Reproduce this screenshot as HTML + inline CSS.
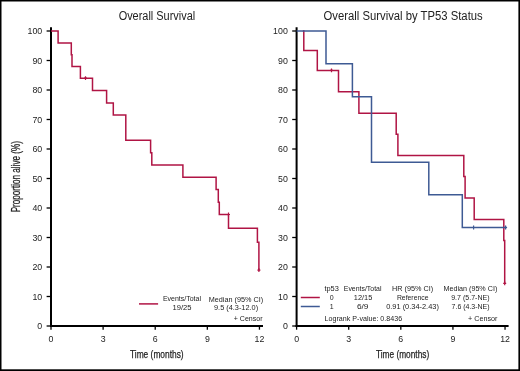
<!DOCTYPE html>
<html><head><meta charset="utf-8">
<style>
html,body{margin:0;padding:0;background:#fff;}
body{width:520px;height:371px;overflow:hidden;position:relative;}
svg{position:absolute;left:0;top:0;}
text{font-family:"Liberation Sans", sans-serif;fill:#222;}
svg{will-change:transform;}
</style></head><body>
<svg width="520" height="371" viewBox="0 0 520 371">
<rect x="0" y="0" width="520" height="1.5" fill="#000"/>
<rect x="0" y="0" width="1.5" height="371" fill="#000"/>
<rect x="518.4" y="0" width="1.6" height="371" fill="#000"/>
<rect x="0" y="369.3" width="520" height="1.7" fill="#000"/>
<line x1="51" y1="27.2" x2="51" y2="327" stroke="#000" stroke-width="2"/>
<line x1="50" y1="326.0" x2="263" y2="326.0" stroke="#000" stroke-width="2"/>
<line x1="46.6" y1="326.00" x2="51" y2="326.00" stroke="#000" stroke-width="1.3"/>
<text x="42.2" y="329.10" text-anchor="end" font-size="8.8">0</text>
<line x1="46.6" y1="296.50" x2="51" y2="296.50" stroke="#000" stroke-width="1.3"/>
<text x="42.2" y="299.60" text-anchor="end" font-size="8.8">10</text>
<line x1="46.6" y1="267.00" x2="51" y2="267.00" stroke="#000" stroke-width="1.3"/>
<text x="42.2" y="270.10" text-anchor="end" font-size="8.8">20</text>
<line x1="46.6" y1="237.50" x2="51" y2="237.50" stroke="#000" stroke-width="1.3"/>
<text x="42.2" y="240.60" text-anchor="end" font-size="8.8">30</text>
<line x1="46.6" y1="208.00" x2="51" y2="208.00" stroke="#000" stroke-width="1.3"/>
<text x="42.2" y="211.10" text-anchor="end" font-size="8.8">40</text>
<line x1="46.6" y1="178.50" x2="51" y2="178.50" stroke="#000" stroke-width="1.3"/>
<text x="42.2" y="181.60" text-anchor="end" font-size="8.8">50</text>
<line x1="46.6" y1="149.00" x2="51" y2="149.00" stroke="#000" stroke-width="1.3"/>
<text x="42.2" y="152.10" text-anchor="end" font-size="8.8">60</text>
<line x1="46.6" y1="119.50" x2="51" y2="119.50" stroke="#000" stroke-width="1.3"/>
<text x="42.2" y="122.60" text-anchor="end" font-size="8.8">70</text>
<line x1="46.6" y1="90.00" x2="51" y2="90.00" stroke="#000" stroke-width="1.3"/>
<text x="42.2" y="93.10" text-anchor="end" font-size="8.8">80</text>
<line x1="46.6" y1="60.50" x2="51" y2="60.50" stroke="#000" stroke-width="1.3"/>
<text x="42.2" y="63.60" text-anchor="end" font-size="8.8">90</text>
<line x1="46.6" y1="31.00" x2="51" y2="31.00" stroke="#000" stroke-width="1.3"/>
<text x="42.2" y="34.10" text-anchor="end" font-size="8.8">100</text>
<line x1="51.00" y1="326.0" x2="51.00" y2="329.7" stroke="#000" stroke-width="1.3"/>
<text x="51.00" y="341.9" text-anchor="middle" font-size="8.8">0</text>
<line x1="103.11" y1="326.0" x2="103.11" y2="329.7" stroke="#000" stroke-width="1.3"/>
<text x="103.11" y="341.9" text-anchor="middle" font-size="8.8">3</text>
<line x1="155.22" y1="326.0" x2="155.22" y2="329.7" stroke="#000" stroke-width="1.3"/>
<text x="155.22" y="341.9" text-anchor="middle" font-size="8.8">6</text>
<line x1="207.33" y1="326.0" x2="207.33" y2="329.7" stroke="#000" stroke-width="1.3"/>
<text x="207.33" y="341.9" text-anchor="middle" font-size="8.8">9</text>
<line x1="259.44" y1="326.0" x2="259.44" y2="329.7" stroke="#000" stroke-width="1.3"/>
<text x="259.44" y="341.9" text-anchor="middle" font-size="8.8">12</text>
<line x1="296.6" y1="27.2" x2="296.6" y2="327" stroke="#000" stroke-width="2"/>
<line x1="295.6" y1="326.0" x2="508.6" y2="326.0" stroke="#000" stroke-width="2"/>
<line x1="292.20000000000005" y1="326.00" x2="296.6" y2="326.00" stroke="#000" stroke-width="1.3"/>
<text x="287.8" y="329.10" text-anchor="end" font-size="8.8">0</text>
<line x1="292.20000000000005" y1="296.50" x2="296.6" y2="296.50" stroke="#000" stroke-width="1.3"/>
<text x="287.8" y="299.60" text-anchor="end" font-size="8.8">10</text>
<line x1="292.20000000000005" y1="267.00" x2="296.6" y2="267.00" stroke="#000" stroke-width="1.3"/>
<text x="287.8" y="270.10" text-anchor="end" font-size="8.8">20</text>
<line x1="292.20000000000005" y1="237.50" x2="296.6" y2="237.50" stroke="#000" stroke-width="1.3"/>
<text x="287.8" y="240.60" text-anchor="end" font-size="8.8">30</text>
<line x1="292.20000000000005" y1="208.00" x2="296.6" y2="208.00" stroke="#000" stroke-width="1.3"/>
<text x="287.8" y="211.10" text-anchor="end" font-size="8.8">40</text>
<line x1="292.20000000000005" y1="178.50" x2="296.6" y2="178.50" stroke="#000" stroke-width="1.3"/>
<text x="287.8" y="181.60" text-anchor="end" font-size="8.8">50</text>
<line x1="292.20000000000005" y1="149.00" x2="296.6" y2="149.00" stroke="#000" stroke-width="1.3"/>
<text x="287.8" y="152.10" text-anchor="end" font-size="8.8">60</text>
<line x1="292.20000000000005" y1="119.50" x2="296.6" y2="119.50" stroke="#000" stroke-width="1.3"/>
<text x="287.8" y="122.60" text-anchor="end" font-size="8.8">70</text>
<line x1="292.20000000000005" y1="90.00" x2="296.6" y2="90.00" stroke="#000" stroke-width="1.3"/>
<text x="287.8" y="93.10" text-anchor="end" font-size="8.8">80</text>
<line x1="292.20000000000005" y1="60.50" x2="296.6" y2="60.50" stroke="#000" stroke-width="1.3"/>
<text x="287.8" y="63.60" text-anchor="end" font-size="8.8">90</text>
<line x1="292.20000000000005" y1="31.00" x2="296.6" y2="31.00" stroke="#000" stroke-width="1.3"/>
<text x="287.8" y="34.10" text-anchor="end" font-size="8.8">100</text>
<line x1="296.60" y1="326.0" x2="296.60" y2="329.7" stroke="#000" stroke-width="1.3"/>
<text x="296.60" y="341.9" text-anchor="middle" font-size="8.8">0</text>
<line x1="348.71" y1="326.0" x2="348.71" y2="329.7" stroke="#000" stroke-width="1.3"/>
<text x="348.71" y="341.9" text-anchor="middle" font-size="8.8">3</text>
<line x1="400.82" y1="326.0" x2="400.82" y2="329.7" stroke="#000" stroke-width="1.3"/>
<text x="400.82" y="341.9" text-anchor="middle" font-size="8.8">6</text>
<line x1="452.93" y1="326.0" x2="452.93" y2="329.7" stroke="#000" stroke-width="1.3"/>
<text x="452.93" y="341.9" text-anchor="middle" font-size="8.8">9</text>
<line x1="505.04" y1="326.0" x2="505.04" y2="329.7" stroke="#000" stroke-width="1.3"/>
<text x="505.04" y="341.9" text-anchor="middle" font-size="8.8">12</text>
<path d="M51,31 H58.1 V42.9 H71.3 V54.7 H72 V66.4 H80.4 V78.2 H92.5 V90.6 H106.6 V102.9 H113.3 V115.1 H125.8 V140.3 H150.6 V152.8 H151.8 V165 H182.9 V177.3 H216.1 V189.4 H218.3 V202.2 H219.3 V214.5 H228.5 V228.3 H257.4 V242.2 H258.9 V270.2" stroke="#B01444" stroke-width="1.5" fill="none"/>
<path d="M84.0,78.2 H87.0 M85.5,76.3 V80.10000000000001" stroke="#B01444" stroke-width="1.2" fill="none"/>
<path d="M227.0,214.5 H230.0 M228.5,212.6 V216.4" stroke="#B01444" stroke-width="1.2" fill="none"/>
<path d="M257.4,270.2 H260.4 M258.9,268.3 V272.09999999999997" stroke="#B01444" stroke-width="1.2" fill="none"/>
<path d="M302.8,31 H303.8 V50.6 H317.3 V70.4 H338.5 V91.8 H358.9 V113.3 H396.2 V134.2 H397.9 V155.5 H463.8 V176.5 H465.1 V198 H474.2 V219.4 H503.8 V240.4 H504.7 V283.3" stroke="#B01444" stroke-width="1.5" fill="none"/>
<path d="M330.0,70.4 H333.0 M331.5,68.5 V72.30000000000001" stroke="#B01444" stroke-width="1.2" fill="none"/>
<path d="M503.2,283.3 H506.2 M504.7,281.40000000000003 V285.2" stroke="#B01444" stroke-width="1.2" fill="none"/>
<path d="M296.6,31 H326 V63.7 H352.4 V96.8 H371.5 V162.2 H428.8 V194.7 H462.3 V227.5 H506.8" stroke="#3E5A94" stroke-width="1.5" fill="none"/>
<path d="M472.1,227.5 H475.1 M473.6,225.6 V229.4" stroke="#3E5A94" stroke-width="1.2" fill="none"/>
<path d="M504.1,227.5 H507.1 M505.6,225.6 V229.4" stroke="#3E5A94" stroke-width="1.2" fill="none"/>
<text x="118.65" y="19.8" font-size="12.3" text-anchor="start" textLength="76.5" lengthAdjust="spacingAndGlyphs">Overall Survival</text>
<text x="323.6" y="19.8" font-size="12.3" text-anchor="start" textLength="159.1" lengthAdjust="spacingAndGlyphs">Overall Survival by TP53 Status</text>
<text x="130.0" y="357.9" font-size="11" text-anchor="start" textLength="53.6" lengthAdjust="spacingAndGlyphs" stroke="#222" stroke-width="0.25">Time (months)</text>
<text x="375.9" y="357.9" font-size="11" text-anchor="start" textLength="53.3" lengthAdjust="spacingAndGlyphs" stroke="#222" stroke-width="0.25">Time (months)</text>
<text transform="translate(19.5,212.3) rotate(-90)" x="0" y="0" font-size="12.3" textLength="71.2" lengthAdjust="spacingAndGlyphs" stroke="#222" stroke-width="0.25">Proportion alive (%)</text>
<line x1="139" y1="303.9" x2="158.1" y2="303.9" stroke="#B01444" stroke-width="1.5"/>
<text x="162.9" y="301.3" font-size="7" text-anchor="start" textLength="38.1" lengthAdjust="spacingAndGlyphs">Events/Total</text>
<text x="172.5" y="310.4" font-size="7" text-anchor="start" textLength="19" lengthAdjust="spacingAndGlyphs">19/25</text>
<text x="208.75" y="301.5" font-size="7" text-anchor="start" textLength="54.4" lengthAdjust="spacingAndGlyphs">Median (95% CI)</text>
<text x="214" y="310.4" font-size="7" text-anchor="start" textLength="44.1" lengthAdjust="spacingAndGlyphs">9.5 (4.3-12.0)</text>
<text x="233.75" y="321" font-size="7" text-anchor="start" textLength="28.75" lengthAdjust="spacingAndGlyphs">+ Censor</text>
<line x1="300.8" y1="297.5" x2="319.8" y2="297.5" stroke="#B01444" stroke-width="1.5"/>
<line x1="300.8" y1="306.5" x2="319.8" y2="306.5" stroke="#3E5A94" stroke-width="1.5"/>
<text x="324.4" y="291.0" font-size="7" text-anchor="start" textLength="14.4" lengthAdjust="spacingAndGlyphs">tp53</text>
<text x="331.7" y="299.9" font-size="7" text-anchor="middle">0</text>
<text x="331.7" y="308.5" font-size="7" text-anchor="middle">1</text>
<text x="343.8" y="290.9" font-size="7" text-anchor="start" textLength="37.7" lengthAdjust="spacingAndGlyphs">Events/Total</text>
<text x="353.8" y="299.7" font-size="7" text-anchor="start" textLength="18.5" lengthAdjust="spacingAndGlyphs">12/15</text>
<text x="356.9" y="308.5" font-size="7" text-anchor="start" textLength="11.6" lengthAdjust="spacingAndGlyphs">6/9</text>
<text x="392" y="290.9" font-size="7" text-anchor="start" textLength="41.1" lengthAdjust="spacingAndGlyphs">HR (95% CI)</text>
<text x="396.9" y="299.7" font-size="7" text-anchor="start" textLength="31.6" lengthAdjust="spacingAndGlyphs">Reference</text>
<text x="386.2" y="308.5" font-size="7" text-anchor="start" textLength="52.7" lengthAdjust="spacingAndGlyphs">0.91 (0.34-2.43)</text>
<text x="443.5" y="290.9" font-size="7" text-anchor="start" textLength="53.8" lengthAdjust="spacingAndGlyphs">Median (95% CI)</text>
<text x="451.2" y="299.7" font-size="7" text-anchor="start" textLength="38.4" lengthAdjust="spacingAndGlyphs">9.7 (5.7-NE)</text>
<text x="451.6" y="308.5" font-size="7" text-anchor="start" textLength="38" lengthAdjust="spacingAndGlyphs">7.6 (4.3-NE)</text>
<text x="324.6" y="321.0" font-size="7" text-anchor="start" textLength="77.5" lengthAdjust="spacingAndGlyphs">Logrank P-value: 0.8436</text>
<text x="468.1" y="321.0" font-size="7" text-anchor="start" textLength="29.4" lengthAdjust="spacingAndGlyphs">+ Censor</text>
</svg>
</body></html>
